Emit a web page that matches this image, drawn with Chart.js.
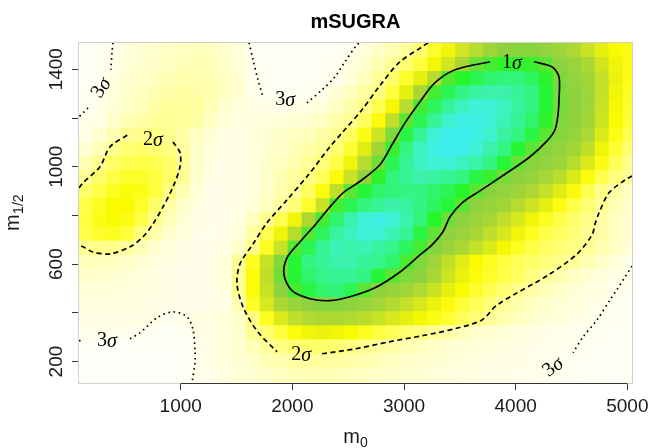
<!DOCTYPE html>
<html>
<head>
<meta charset="utf-8">
<script src="https://cdn.jsdelivr.net/npm/chart.js@4.4.1/dist/chart.umd.min.js"></script>
<style>
  html, body { margin: 0; padding: 0; background: #fff; }
</style>
</head>
<body>
<canvas id="grafico" width="652" height="448"></canvas>
<script>
// centros das celulas do mapa (m0 e m1/2, de cima para baixo)
var m0Cells = [150, 275, 400, 525, 650, 775, 900, 1025, 1150, 1275, 1400, 1525, 1650, 1775, 1900, 2025, 2150, 2275, 2400, 2525,
               2650, 2775, 2900, 3025, 3150, 3275, 3400, 3525, 3650, 3775, 3900, 4025, 4150, 4275, 4400, 4525, 4650, 4775, 4900, 5025];
var m12Cells = [1478, 1420, 1362, 1304, 1246, 1188, 1130, 1072, 1014, 956, 898, 840, 782, 724, 666, 608, 550, 492, 434, 376, 318, 260, 202, 144];

// verossimilhanca relativa (0 = branco, 10 = ciano), uma linha por m1/2
var likelihood = [
  [0.6,0.8,1.05,1.5,1.7, 1.9,2.1,2.2,2.3,2.2, 1.9,1.5,0.95,0.6,0.45, 0.4,0.45,0.6,0.8,1.0, 1.5,2.0,2.4,2.8,3.4, 4.2,4.8,5.4,6.0,6.6, 7.0,7.1,7.1,6.9,6.6, 6.2,5.6,5.0,4.6,4.4],
  [0.6,0.8,1.1,1.6,1.8, 2.0,2.2,2.3,2.4,2.3, 2.0,1.6,1.0,0.7,0.5, 0.45,0.5,0.7,0.95,1.4, 1.9,2.4,2.9,3.4,4.0, 4.7,5.4,6.3,7.4,7.8, 8.0,8.0,7.9,7.6,7.0, 6.7,6.2,5.4,4.8,4.4],
  [0.7,0.95,1.4,1.8,2.0, 2.2,2.4,2.5,2.5,2.4, 2.1,1.7,1.05,0.8,0.6, 0.6,0.7,0.9,1.15,1.6, 2.2,2.9,3.5,4.2,5.0, 6.0,7.7,8.1,8.4,8.6, 8.7,8.7,8.5,8.0,7.2, 6.9,6.5,5.7,4.9,4.4],
  [0.8,1.05,1.5,1.9,2.2, 2.4,2.6,2.7,2.6,2.5, 2.2,1.8,1.1,0.95,0.85, 0.85,0.95,1.1,1.7,2.2, 2.7,3.2,4.0,5.0,6.3, 7.8,8.4,8.8,9.1,9.2, 9.2,9.0,8.8,8.2,7.3, 7.0,6.6,5.7,4.8,4.3],
  [0.95,1.15,1.7,2.0,2.3, 2.6,2.8,2.8,2.7,2.3, 1.8,1.5,1.3,1.2,1.15, 1.2,1.3,1.5,2.1,2.6, 3.1,3.8,4.7,6.0,7.8, 8.5,9.0,9.4,9.6,9.6, 9.4,9.1,8.8,8.2,7.3, 7.0,6.6,5.6,4.7,4.2],
  [1.1,1.3,1.9,2.3,2.6, 2.8,2.9,2.8,2.6,2.1, 1.6,1.4,1.4,1.5,1.6, 1.7,1.9,2.2,2.6,3.0, 3.6,4.5,5.8,7.6,8.4, 9.0,9.5,9.8,9.8,9.6, 9.3,9.0,8.6,8.0,7.2, 7.0,6.5,5.5,4.6,4.1],
  [1.3,1.8,2.4,2.9,3.1, 3.2,3.0,2.6,2.1,1.7, 1.3,1.3,1.5,1.7,2.0, 2.1,2.3,2.6,3.0,3.6, 4.4,5.5,7.2,8.3,9.0, 9.6,9.9,10,9.8,9.5, 9.1,8.8,8.3,7.6,7.1, 6.8,6.2,5.2,4.4,3.8],
  [1.8,2.3,3.0,3.4,3.5, 3.4,3.2,2.7,2.0,1.5, 1.2,1.3,1.5,1.8,2.0, 2.3,2.6,2.9,3.4,4.1, 5.1,6.5,7.9,8.8,9.4, 9.8,10,9.9,9.6,9.2, 8.8,8.2,7.6,7.1,6.9, 6.5,5.8,4.8,4.1,3.4],
  [2.4,3.0,3.5,3.8,3.9, 3.8,3.5,2.9,2.0,1.4, 1.15,1.3,1.5,1.9,2.2, 2.5,2.9,3.3,3.9,4.8, 6.0,7.4,8.4,9.0,9.4, 9.6,9.6,9.4,9.2,8.8, 8.2,7.5,7.1,6.9,6.6, 6.0,5.2,4.4,3.7,3.1],
  [3.0,3.5,3.9,4.2,4.2, 4.0,3.5,2.9,1.9,1.3, 1.15,1.3,1.5,2.0,2.4, 2.8,3.2,3.7,4.5,5.6, 6.9,8.0,8.7,9.0,9.2, 9.1,9.0,8.8,8.3,7.9, 7.3,7.0,6.8,6.4,5.9, 5.2,4.5,3.8,3.3,2.9],
  [3.5,3.9,4.3,4.5,4.4, 4.0,3.2,2.4,1.6,1.2, 1.15,1.25,1.5,2.0,2.5, 2.9,3.6,4.5,5.8,7.6, 8.2,8.6,8.7,8.8,8.8, 8.6,8.4,8.1,7.6,7.1, 6.9,6.6,6.2,5.7,5.1, 4.5,3.8,3.1,2.6,2.2],
  [3.9,4.3,4.6,4.6,4.2, 3.5,2.6,2.0,1.4,1.15, 1.15,1.3,1.6,2.2,2.7, 3.3,4.2,5.6,7.8,8.4, 8.8,9.0,9.2,9.1,8.8, 8.5,8.2,7.6,7.0,6.8, 6.5,6.0,5.5,5.0,4.4, 3.9,3.4,2.9,2.4,2.0],
  [4.0,4.4,4.6,4.4,3.9, 3.1,2.3,1.7,1.3,1.15, 1.15,1.4,2.2,3.0,3.8, 4.8,6.2,7.8,8.6,9.2, 9.6,9.8,9.6,9.2,8.7, 8.1,7.4,7.0,6.7,6.3, 5.8,5.3,4.8,4.3,3.9, 3.5,3.1,2.6,2.2,1.8],
  [3.9,4.2,4.3,4.0,3.2, 2.5,1.9,1.5,1.2,1.1, 1.15,1.6,2.7,3.8,4.8, 6.0,7.7,8.5,9.1,9.4, 9.6,9.6,9.3,9.0,8.3, 7.5,7.0,6.7,6.3,5.8, 5.3,4.8,4.3,3.9,3.6, 3.3,3.0,2.6,2.2,1.8],
  [3.0,3.1,3.1,2.8,2.3, 1.9,1.5,1.3,1.15,1.15, 1.3,2.0,3.1,4.3,5.6, 7.7,8.4,9.0,9.3,9.2, 9.3,9.1,8.9,8.5,7.8, 7.1,6.7,6.2,5.7,5.2, 4.7,4.3,3.9,3.6,3.4, 3.2,2.9,2.5,2.1,1.7],
  [2.3,2.3,2.2,2.0,1.8, 1.5,1.3,1.2,1.15,1.2, 1.6,2.9,4.3,5.6,7.2, 8.2,8.8,9.0,9.2,9.2, 9.0,8.9,8.6,7.8,7.2, 6.6,5.8,5.1,4.6,4.3, 4.0,3.7,3.5,3.3,3.1, 2.8,2.4,2.0,1.6,1.2],
  [1.9,1.9,1.8,1.7,1.5, 1.35,1.25,1.15,1.15,1.2, 1.6,3.0,4.5,5.8,7.4, 8.2,8.6,8.9,9.0,9.0, 8.8,8.2,7.6,7.2,7.0, 6.3,5.5,4.9,4.5,4.2, 3.9,3.6,3.2,2.8,2.5, 2.1,1.8,1.5,1.3,1.1],
  [1.6,1.6,1.6,1.5,1.4, 1.3,1.2,1.15,1.15,1.2, 1.5,3.0,4.5,5.6,7.0, 7.8,8.3,8.6,8.7,8.4, 7.6,7.0,6.8,6.5,6.1, 5.6,5.0,4.6,4.2,3.8, 3.4,3.0,2.6,2.3,2.0, 1.7,1.5,1.3,1.1,0.9],
  [1.4,1.4,1.4,1.35,1.3, 1.25,1.2,1.15,1.15,1.2, 1.3,2.4,4.2,5.3,6.2, 6.7,7.0,7.1,7.1,7.0, 6.8,6.5,6.1,5.7,5.3, 4.9,4.5,4.1,3.7,3.3, 2.9,2.5,2.2,1.9,1.7, 1.5,1.3,1.1,0.9,0.8],
  [1.3,1.3,1.3,1.3,1.3, 1.25,1.0,1.1,1.3,1.4, 1.6,2.0,3.2,4.3,5.2, 5.8,6.1,6.2,6.2,6.1, 5.9,5.6,5.3,5.0,4.7, 4.4,4.1,3.7,3.3,2.9, 2.5,2.2,1.9,1.7,1.5, 1.3,1.1,0.9,0.8,0.7],
  [1.1,1.1,1.1,1.05,0.9, 0.7,0.6,0.7,1.2,1.3, 1.5,1.9,2.9,3.4,4.0, 4.5,4.8,4.9,4.8,4.6, 4.3,4.0,3.7,3.4,3.2, 2.9,2.6,2.3,2.0,1.8, 1.6,1.4,1.3,1.2,1.1, 1.0,0.9,0.8,0.7,0.6],
  [0.5,0.4,0.4,0.4,0.4, 0.4,0.5,0.6,1.1,1.3, 1.5,1.8,2.3,2.8,3.2, 3.4,3.5,3.5,3.4,3.2, 3.0,2.8,2.6,2.4,2.2, 2.0,1.8,1.7,1.6,1.5, 1.4,1.3,1.2,1.1,1.05, 0.95,0.85,0.7,0.6,0.5],
  [0.3,0.3,0.3,0.3,0.3, 0.3,0.4,0.6,1.05,1.3, 1.5,1.7,2.0,2.3,2.5, 2.7,2.8,2.8,2.7,2.6, 2.5,2.3,2.2,2.0,1.9, 1.8,1.7,1.5,1.4,1.3, 1.25,1.2,1.1,1.05,0.95, 0.85,0.7,0.6,0.5,0.4],
  [0.2,0.2,0.2,0.2,0.2, 0.3,0.4,0.6,1.05,1.2, 1.4,1.6,1.8,2.0,2.2, 2.3,2.4,2.4,2.3,2.2, 2.1,2.0,1.9,1.8,1.7, 1.6,1.5,1.4,1.3,1.25, 1.2,1.1,1.05,0.95,0.9, 0.8,0.7,0.6,0.5,0.4]
];

var xTicks = [1000, 2000, 3000, 4000, 5000];
var yTicks = [200, 400, 600, 800, 1000, 1200, 1400];
var yTickLabels = ['200', '', '600', '', '1000', '', '1400'];

// contornos [m0, m1/2], partidos onde fica o rotulo
var sigma1 = [[4164,1431],[4326,1410],[4388,1369],[4388,1275],[4379,1213],[4352,1152],[4281,1106],[4129,1041],[3923,975],[3681,901],
  [3520,852],[3412,794],[3349,733],[3251,679],[3143,638],[2964,568],[2740,503],[2516,466],[2337,450],[2158,458],[1997,491],[1925,556],
  [1952,626],[2069,692],[2203,761],[2337,835],[2454,893],[2588,934],[2785,1008],[2892,1090],[3009,1180],[3143,1267],[3278,1345],[3457,1398],[3770,1431]];
var sigma2a = [[3215,1509],[3161,1492],[2955,1427],[2776,1328],[2624,1234],[2445,1139],[2337,1082],[2158,975],[1952,864],[1773,770],
  [1648,683],[1531,601],[1504,519],[1558,425],[1683,326],[1863,240]];
var sigma2b = [[2266,232],[2561,252],[2865,281],[3161,306],[3457,335],[3699,371],[3824,429],[4012,482],[4281,552],[4541,638],
  [4684,720],[4711,765],[4747,811],[4836,893],[4980,946],[5042,962]];
var sigma2c = [[89,913],[125,934],[277,1000],[367,1082],[528,1131]];
var sigma2d = [[931,1102],[994,1057],[994,1000],[931,917],[841,835],[752,765],[662,712],[546,671],[367,642],[214,650],[125,671],[89,679]];
var sigma3a = [[394,1509],[385,1472],[375,1398]];
var sigma3b = [[170,1242],[125,1221],[89,1205]];
var sigma3c = [[1612,1509],[1648,1439],[1692,1357],[1737,1287]];
var sigma3d = [[2131,1262],[2266,1316],[2382,1369],[2471,1431],[2579,1501],[2606,1509]];
var sigma3e = [[89,286],[125,286]];
var sigma3f = [[546,294],[635,318],[788,380],[931,404],[1056,384],[1110,331],[1128,244],[1128,195],[1101,112]];
var sigma3g = [[5042,592],[4980,548],[4908,496],[4846,454],[4729,371],[4603,301],[4514,236]];

// rotulos dos contornos
var sigmaNames = ['1', '2', '2', '3', '3', '3', '3'];
var sigmaAt = [[3967,1427],[752,1111],[2078,228],[286,1324],[1935,1275],[340,286],[4335,178]];
var sigmaTilt = [0, 0, 0, -59, 0, 0, -40];

// escala de cores: branco -> amarelo -> verde -> ciano
var paleta = [
  [0, 255,255,255], [1, 255,255,238], [2, 255,255,202], [3, 255,255,145], [4, 255,255,64],
  [4.6, 250,250,0], [5.3, 214,232,30], [6.2, 172,216,52], [7.0, 142,210,64], [7.6, 92,230,52],
  [8.1, 36,246,40], [8.7, 50,244,120], [9.2, 60,242,170], [9.6, 64,240,215], [10, 60,238,240]
];

function corDoNivel(v) {
  for (var k = 1; k < paleta.length; k++) {
    if (v <= paleta[k][0]) {
      var a = paleta[k - 1], b = paleta[k];
      var t = (v - a[0]) / (b[0] - a[0]);
      return 'rgb(' + Math.round(a[1] + (b[1] - a[1]) * t) + ',' + Math.round(a[2] + (b[2] - a[2]) * t) + ',' + Math.round(a[3] + (b[3] - a[3]) * t) + ')';
    }
  }
  var u = paleta[paleta.length - 1];
  return 'rgb(' + u[1] + ',' + u[2] + ',' + u[3] + ')';
}

var celulas = [];
var cores = [];
for (var r = 0; r < m12Cells.length; r++) {
  for (var c = 0; c < m0Cells.length; c++) {
    celulas.push({ x: m0Cells[c], y: m12Cells[r], v: likelihood[r][c] });
    cores.push(corDoNivel(likelihood[r][c]));
  }
}

function pares(lista) {
  return lista.map(function (p) { return { x: p[0], y: p[1] }; });
}

function contorno(lista, tracejado) {
  return {
    data: pares(lista),
    showLine: true,
    borderColor: '#000',
    borderWidth: 1.7,
    borderDash: tracejado,
    pointRadius: 0,
    tension: 0.3,
    clip: 0,
    order: 1
  };
}

var fonteSans = '"Liberation Sans", Arial, Helvetica, sans-serif';
var fonteSerif = '"Liberation Serif", "Times New Roman", serif';

var desenhos = {
  id: 'desenhos',
  afterDatasetsDraw: function (chart) {
    var ctx = chart.ctx, a = chart.chartArea, sx = chart.scales.x, sy = chart.scales.y;
    ctx.save();

    // moldura cinza clara
    ctx.strokeStyle = '#d0d0d0';
    ctx.lineWidth = 1;
    ctx.strokeRect(a.left - 0.5, a.top - 0.5, a.right - a.left + 1, a.bottom - a.top + 1);

    // linha do eixo x entre o primeiro e o ultimo tick
    ctx.strokeStyle = '#333';
    ctx.beginPath();
    ctx.moveTo(sx.getPixelForValue(xTicks[0]), a.bottom + 0.5);
    ctx.lineTo(sx.getPixelForValue(xTicks[xTicks.length - 1]), a.bottom + 0.5);
    ctx.stroke();

    // rotulos dos contornos
    ctx.fillStyle = '#000';
    ctx.textBaseline = 'middle';
    ctx.textAlign = 'left';
    for (var i = 0; i < sigmaNames.length; i++) {
      var px = sx.getPixelForValue(sigmaAt[i][0]);
      var py = sy.getPixelForValue(sigmaAt[i][1]);
      ctx.save();
      ctx.translate(px, py);
      ctx.rotate(sigmaTilt[i] * Math.PI / 180);
      ctx.font = '20px ' + fonteSerif;
      var wd = ctx.measureText(sigmaNames[i]).width;
      ctx.font = 'italic 20px ' + fonteSerif;
      var wsig = ctx.measureText('\u03c3').width;
      var x0 = -(wd + wsig) / 2;
      ctx.font = '20px ' + fonteSerif;
      ctx.fillText(sigmaNames[i], x0, 0);
      ctx.font = 'italic 20px ' + fonteSerif;
      ctx.fillText('\u03c3', x0 + wd, 1);
      ctx.restore();
    }

    // titulo
    var cx = (a.left + a.right) / 2;
    ctx.fillStyle = '#000';
    ctx.textAlign = 'center';
    ctx.textBaseline = 'alphabetic';
    ctx.font = 'bold 20px ' + fonteSans;
    ctx.fillText('mSUGRA', cx, 28);

    // numeros dos eixos
    ctx.fillStyle = '#1a1a1a';
    ctx.font = '19px ' + fonteSans;
    xTicks.forEach(function (v) {
      ctx.fillText(String(v), sx.getPixelForValue(v), 412);
    });
    yTicks.forEach(function (v, k) {
      if (!yTickLabels[k]) return;
      ctx.save();
      ctx.translate(62, sy.getPixelForValue(v));
      ctx.rotate(-Math.PI / 2);
      ctx.fillText(yTickLabels[k], 0, 0);
      ctx.restore();
    });

    // titulos dos eixos com subscrito
    ctx.textAlign = 'left';
    ctx.font = '20px ' + fonteSans;
    var wm = ctx.measureText('m').width;
    ctx.font = '14px ' + fonteSans;
    var w0 = ctx.measureText('0').width;
    var w12 = ctx.measureText('1/2').width;

    var xs = cx - (wm + w0) / 2;
    ctx.font = '20px ' + fonteSans;
    ctx.fillText('m', xs, 443);
    ctx.font = '14px ' + fonteSans;
    ctx.fillText('0', xs + wm, 447);

    ctx.save();
    ctx.translate(19, (a.top + a.bottom) / 2);
    ctx.rotate(-Math.PI / 2);
    var ys = -(wm + w12) / 2;
    ctx.font = '20px ' + fonteSans;
    ctx.fillText('m', ys, 0);
    ctx.font = '14px ' + fonteSans;
    ctx.fillText('1/2', ys + wm + 0.5, 4);
    ctx.restore();

    ctx.restore();
  }
};

var grafico = new Chart(document.getElementById('grafico'), {
  type: 'scatter',
  data: {
    datasets: [
      contorno(sigma1, []),
      contorno(sigma2a, [5, 3.5]),
      contorno(sigma2b, [5, 3.5]),
      contorno(sigma2c, [5, 3.5]),
      contorno(sigma2d, [5, 3.5]),
      contorno(sigma3a, [1.6, 3.6]),
      contorno(sigma3b, [1.6, 3.6]),
      contorno(sigma3c, [1.6, 3.6]),
      contorno(sigma3d, [1.6, 3.6]),
      contorno(sigma3e, [1.6, 3.6]),
      contorno(sigma3f, [1.6, 3.6]),
      contorno(sigma3g, [1.6, 3.6]),
      {
        data: celulas,
        pointStyle: 'rect',
        pointBackgroundColor: cores,
        pointBorderWidth: 0,
        pointBorderColor: 'rgba(0,0,0,0)',
        pointRadius: function (ctx) {
          var sx = ctx.chart.scales.x, sy = ctx.chart.scales.y;
          var w = Math.abs(sx.getPixelForValue(125) - sx.getPixelForValue(0));
          var h = Math.abs(sy.getPixelForValue(58) - sy.getPixelForValue(0));
          return (Math.max(w, h) + 0.8) / Math.SQRT2;
        },
        clip: 0,
        order: 2
      }
    ]
  },
  options: {
    responsive: false,
    animation: false,
    devicePixelRatio: 1,
    events: [],
    layout: { padding: { left: 0, top: 43, right: 20, bottom: 0 } },
    plugins: {
      legend: { display: false },
      tooltip: { enabled: false },
      title: { display: false }
    },
    scales: {
      x: {
        type: 'linear',
        min: 89,
        max: 5042,
        afterBuildTicks: function (s) { s.ticks = xTicks.map(function (v) { return { value: v }; }); },
        afterFit: function (s) { s.height = 65; },
        ticks: { display: false },
        grid: { drawOnChartArea: false, drawTicks: true, tickLength: 7, color: '#333', lineWidth: 1 },
        border: { display: false }
      },
      y: {
        type: 'linear',
        min: 112,
        max: 1508,
        afterBuildTicks: function (s) { s.ticks = yTicks.map(function (v) { return { value: v }; }); },
        afterFit: function (s) { s.width = 79; },
        ticks: { display: false },
        grid: { drawOnChartArea: false, drawTicks: true, tickLength: 7, color: '#333', lineWidth: 1 },
        border: { display: false }
      }
    }
  },
  plugins: [desenhos]
});
</script>
</body>
</html>
